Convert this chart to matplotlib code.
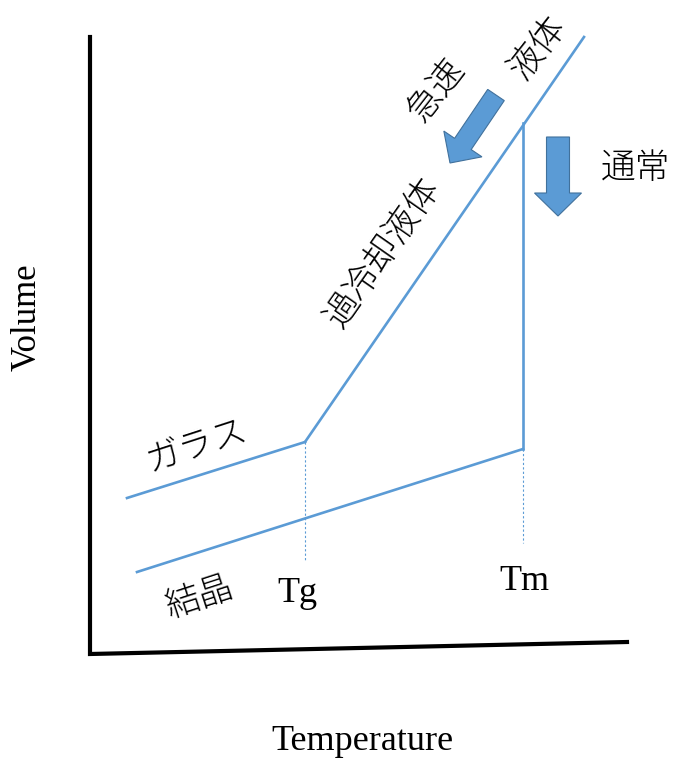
import matplotlib
matplotlib.use("Agg")
import matplotlib.pyplot as plt
from matplotlib.patches import FancyArrow

# schematic values, in picture units (temperature -> right, volume -> up)
frame_T = [90, 90, 627]
frame_V = [727, 110, 122]

glass_T = [127, 305]
glass_V = [266, 322]
liquid_T = [305, 584]
liquid_V = [322, 727]
crystal_T = [137, 523]
crystal_V = [192, 315]
melt_T = [523, 523]
melt_V = [315, 641]

Tg, Tg_bottom = 305, 204
Tm, Tm_bottom = 523, 221

blue = "#5B9BD5"
jp = ["Noto Sans CJK JP", "DejaVu Sans"]
serif = "Liberation Serif"

fig = plt.figure(figsize=(6.77, 7.64), dpi=100)
ax = fig.add_axes([0, 0, 1, 1])
ax.set_xlim(0, 677)
ax.set_ylim(0, 764)
ax.axis("off")

ax.plot(frame_T, frame_V, color="black", lw=3, solid_joinstyle="miter")

ax.plot(glass_T, glass_V, color=blue, lw=1.9)
ax.plot(liquid_T, liquid_V, color=blue, lw=1.9)
ax.plot(crystal_T, crystal_V, color=blue, lw=1.9)
ax.plot(melt_T, melt_V, color=blue, lw=1.9)

ax.plot([Tg, Tg], [glass_V[1], Tg_bottom], color=blue, lw=0.8, ls=(0, (2, 2)))
ax.plot([Tm, Tm], [crystal_V[1], Tm_bottom], color=blue, lw=0.8, ls=(0, (2, 2)))

# cooling arrows
ax.add_patch(FancyArrow(496, 669, -46, -68, width=20, head_width=46, head_length=23,
                        length_includes_head=True, fc=blue, ec="#41719C", lw=0.8))
ax.add_patch(FancyArrow(558, 627, 0, -79, width=23, head_width=47, head_length=23,
                        length_includes_head=True, fc=blue, ec="#41719C", lw=0.8))

jp_kw = dict(family=jp, fontsize=25, fontweight="light", ha="center", va="center")
ax.text(436, 674, "急速", rotation=52, **jp_kw)
ax.text(538, 716, "液体", rotation=52, **jp_kw)
ax.text(383, 512, "過冷却液体", rotation=55, **jp_kw)
ax.text(636, 596, "通常", **jp_kw)
ax.text(197, 319, "ガラス", rotation=18, **jp_kw)
ax.text(200, 167, "結晶", rotation=18, **jp_kw)

ax.text(297, 171, "Tg", family=serif, fontsize=26, ha="center", va="center")
ax.text(524, 182, "Tm", family=serif, fontsize=26, ha="center", va="center")
ax.text(362, 22, "Temperature", family=serif, fontsize=26, ha="center", va="center")
ax.text(27, 447, "Volume", family=serif, fontsize=25, rotation=90, ha="center", va="center")

fig.savefig("out.png", dpi=100)
